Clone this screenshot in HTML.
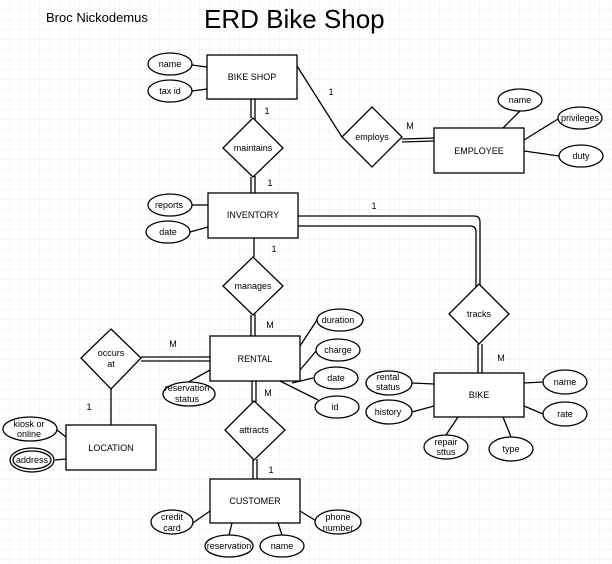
<!DOCTYPE html>
<html><head><style>
html,body{margin:0;padding:0;background:#fff;}
svg{display:block;}
text{font-family:"Liberation Sans",Arial,sans-serif;fill:#000;}
</style></head><body>
<svg width="612" height="564" viewBox="0 0 612 564" xmlns="http://www.w3.org/2000/svg">
<defs>
<pattern id="g" width="10" height="10" patternUnits="userSpaceOnUse">
<path d="M10 0V10M0 10H10" stroke="#ebebeb" stroke-width="1" fill="none"/>
</pattern>
</defs>
<rect width="612" height="564" fill="url(#g)"/>
<text x="46" y="22" font-size="13">Broc Nickodemus</text>
<text x="204" y="28" font-size="26">ERD Bike Shop</text>

<g stroke="#000" stroke-width="1.3" fill="none">
<!-- connectors -->
<line x1="297" y1="66" x2="342" y2="137"/>
<line x1="402" y1="139" x2="434" y2="138"/><line x1="402" y1="142" x2="434" y2="141"/>
<line x1="251" y1="99" x2="251" y2="118"/><line x1="255" y1="99" x2="255" y2="120"/>
<line x1="251" y1="177" x2="251" y2="193"/><line x1="255" y1="176" x2="255" y2="193"/>
<line x1="254" y1="238" x2="254" y2="257"/>
<line x1="251" y1="315" x2="251" y2="336"/><line x1="255" y1="314" x2="255" y2="336"/>
<line x1="252" y1="381" x2="252" y2="402"/><line x1="256" y1="381" x2="256" y2="402"/>
<line x1="253" y1="459" x2="253" y2="479"/><line x1="257" y1="459" x2="257" y2="479"/>
<line x1="141" y1="357" x2="213" y2="357"/><line x1="141" y1="361" x2="213" y2="361"/>
<line x1="111" y1="389" x2="111" y2="425"/>
<path d="M298 216H474Q480 216 480 222V286"/>
<path d="M298 226H470Q476 226 476 232V287"/>
<line x1="478" y1="344" x2="478" y2="373"/><line x1="482" y1="344" x2="482" y2="373"/>
<!-- attribute lines -->
<line x1="192" y1="65" x2="207" y2="67"/><line x1="192" y1="91" x2="207" y2="89"/>
<line x1="192" y1="205" x2="208" y2="205"/><line x1="190" y1="232" x2="208" y2="227"/>
<line x1="300" y1="346" x2="317" y2="320"/><line x1="300" y1="370" x2="317" y2="350"/>
<line x1="292" y1="383" x2="313" y2="378"/><line x1="280" y1="381" x2="318" y2="400"/>
<line x1="210" y1="370" x2="185" y2="384"/>
<line x1="210" y1="511" x2="190" y2="525"/><line x1="232" y1="523" x2="229" y2="535"/>
<line x1="278" y1="523" x2="282" y2="535"/><line x1="300" y1="511" x2="318" y2="522"/>
<line x1="57" y1="430" x2="66" y2="437"/><line x1="55" y1="460" x2="66" y2="459"/>
<line x1="503" y1="128" x2="520" y2="111"/><line x1="524" y1="140" x2="558" y2="119"/><line x1="524" y1="151" x2="559" y2="156"/>
<line x1="412" y1="383" x2="434" y2="384"/><line x1="412" y1="412" x2="434" y2="406"/>
<line x1="458" y1="417" x2="446" y2="435"/><line x1="503" y1="417" x2="511" y2="437"/>
<line x1="524" y1="383" x2="543" y2="382"/><line x1="524" y1="406" x2="543" y2="414"/>
</g>

<g stroke="#000" stroke-width="1.3" fill="#fff">
<rect x="207" y="55" width="90" height="44"/>
<rect x="208" y="193" width="90" height="45"/>
<rect x="210" y="336" width="90" height="45"/>
<rect x="210" y="479" width="90" height="44"/>
<rect x="66" y="425" width="90" height="45"/>
<rect x="434" y="128" width="90" height="45"/>
<rect x="434" y="373" width="90" height="44"/>
<polygon points="253,118 283,148 253,177 223,148"/>
<polygon points="253,257 283,286 253,315 223,286"/>
<polygon points="254,401 285,430 254,460 225,430"/>
<polygon points="111,329 141,358 111,389 81,358"/>
<polygon points="372,107 402,137 372,167 342,137"/>
<polygon points="479,284 509,314 479,344 449,314"/>
<ellipse cx="170" cy="64" rx="22" ry="11"/>
<ellipse cx="170" cy="91" rx="22" ry="11"/>
<ellipse cx="170" cy="205" rx="22" ry="11"/>
<ellipse cx="168" cy="232" rx="22" ry="11"/>
<ellipse cx="340" cy="320" rx="23" ry="11"/>
<ellipse cx="338" cy="350" rx="22" ry="11"/>
<ellipse cx="336" cy="378" rx="22" ry="11"/>
<ellipse cx="337" cy="407" rx="22" ry="11"/>
<ellipse cx="189" cy="394" rx="26" ry="12"/>
<ellipse cx="172" cy="522" rx="21" ry="12"/>
<ellipse cx="229" cy="546" rx="24" ry="11"/>
<ellipse cx="282" cy="546" rx="22" ry="11"/>
<ellipse cx="338" cy="522" rx="23" ry="12"/>
<ellipse cx="30" cy="429" rx="27" ry="12"/>
<ellipse cx="32" cy="460" rx="22" ry="12"/>
<ellipse cx="32" cy="460" rx="19" ry="9"/>
<ellipse cx="520" cy="100" rx="22" ry="11"/>
<ellipse cx="580" cy="118" rx="22" ry="11"/>
<ellipse cx="581" cy="156" rx="22" ry="11"/>
<ellipse cx="389" cy="383" rx="23" ry="12"/>
<ellipse cx="389" cy="412" rx="23" ry="12"/>
<ellipse cx="446" cy="447" rx="22" ry="12"/>
<ellipse cx="511" cy="449" rx="22" ry="12"/>
<ellipse cx="565" cy="382" rx="22" ry="12"/>
<ellipse cx="565" cy="414" rx="22" ry="12"/>
</g>

<g font-size="9" text-anchor="middle">
<text x="252" y="80">BIKE SHOP</text>
<text x="253" y="218">INVENTORY</text>
<text x="255" y="362">RENTAL</text>
<text x="255" y="504">CUSTOMER</text>
<text x="111" y="451">LOCATION</text>
<text x="479" y="154">EMPLOYEE</text>
<text x="479" y="398">BIKE</text>
<text x="253" y="151">maintains</text>
<text x="253" y="289">manages</text>
<text x="254" y="433">attracts</text>
<text x="111" y="356">occurs</text><text x="111" y="367">at</text>
<text x="372" y="140">employs</text>
<text x="479" y="317">tracks</text>
<text x="170" y="67">name</text>
<text x="170" y="94">tax id</text>
<text x="169" y="208">reports</text>
<text x="168" y="235">date</text>
<text x="338" y="323">duration</text>
<text x="338" y="353">charge</text>
<text x="336" y="381">date</text>
<text x="335" y="410">id</text>
<text x="187" y="391">reservation</text><text x="187" y="402">status</text>
<text x="172" y="520">credit</text><text x="172" y="531">card</text>
<text x="229" y="549">reservation</text>
<text x="282" y="549">name</text>
<text x="338" y="520">phone</text><text x="338" y="531">number</text>
<text x="29" y="427">kiosk or</text><text x="29" y="437">online</text>
<text x="32" y="463">address</text>
<text x="520" y="103">name</text>
<text x="580" y="121">privileges</text>
<text x="581" y="159">duty</text>
<text x="388" y="380">rental</text><text x="388" y="390">status</text>
<text x="388" y="415">history</text>
<text x="446" y="445">repair</text><text x="446" y="455">sttus</text>
<text x="511" y="452">type</text>
<text x="565" y="385">name</text>
<text x="565" y="417">rate</text>
<text x="331" y="95">1</text>
<text x="410" y="129">M</text>
<text x="267" y="114">1</text>
<text x="270" y="186">1</text>
<text x="274" y="252">1</text>
<text x="270" y="328">M</text>
<text x="268" y="396">M</text>
<text x="271" y="473">1</text>
<text x="173" y="347">M</text>
<text x="89" y="410">1</text>
<text x="374" y="209">1</text>
<text x="501" y="361">M</text>
</g>
</svg>
</body></html>
